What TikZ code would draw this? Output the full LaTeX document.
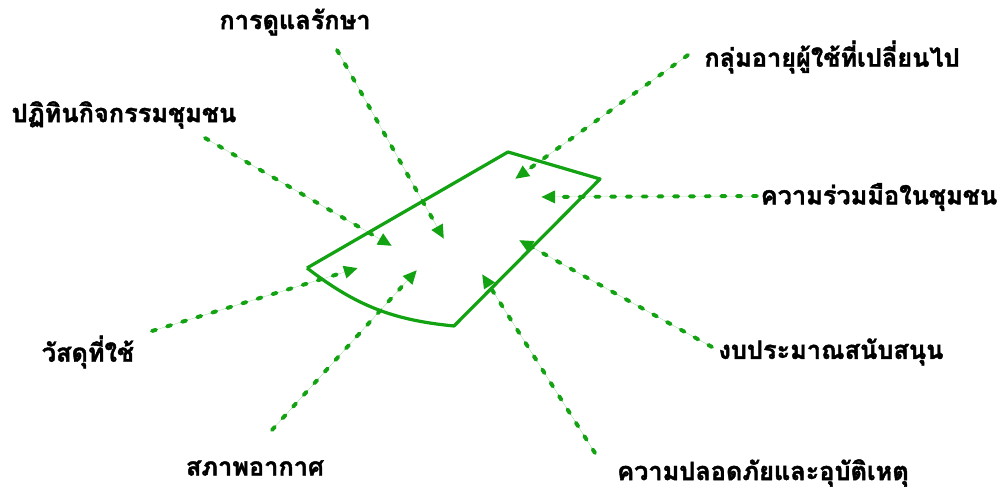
\documentclass[tikz,border=0pt]{standalone}
\usepackage{fontspec}
\newfontfamily\thaifont[Script=Thai,BoldFeatures={FakeBold=1.6}]{Loma}
\usepackage{tikz}
\usetikzlibrary{arrows.meta}
\definecolor{leaf}{HTML}{12A212}

\begin{document}
\begin{tikzpicture}[
  x=0.025cm,y=-0.025cm,
  font=\thaifont\bfseries\fontsize{18}{20}\selectfont,
  label/.style={inner sep=0pt,text=black},
  edge/.style={draw=leaf,line width=2.3pt,line join=round},
  cue/.style={-{Triangle[length=10pt,width=8.5pt]},draw=leaf,fill=leaf,line width=2.8pt,
    line cap=round,dash pattern=on 3pt off 8.2pt},
]
\useasboundingbox (0,0) rectangle (1001,491);

% the zone
\coordinate (west) at (307,268);
\coordinate (top) at (508,152);
\coordinate (east) at (600,179);
\coordinate (south) at (454,326);
\draw[edge] (west) -- (top) -- (east) -- (south) to[bend left=16] (west);

% labels
\node[label] (care) at (295,22) {การดูแลรักษา};
\node[label] (agegroup) at (832,57) {กลุ่มอายุผู้ใช้ที่เปลี่ยนไป};
\node[label] (calendar) at (124,115) {ปฏิทินกิจกรรมชุมชน};
\node[label] (cooperation) at (879,197) {ความร่วมมือในชุมชน};
\node[label] (material) at (88,352) {วัสดุที่ใช้};
\node[label] (budget) at (831,352) {งบประมาณสนับสนุน};
\node[label] (weather) at (255,468) {สภาพอากาศ};
\node[label] (safety) at (763,473) {ความปลอดภัยและอุบัติเหตุ};

% where the dashed lines leave and land
\coordinate (careout) at (337,50);
\coordinate (carein) at (444,239);
\coordinate (ageout) at (688,55);
\coordinate (agein) at (515,179);
\coordinate (calout) at (205,138);
\coordinate (calin) at (392,246);
\coordinate (coopout) at (757,196);
\coordinate (coopin) at (541,197);
\coordinate (matout) at (152,331);
\coordinate (matin) at (358,268);
\coordinate (budout) at (712,347);
\coordinate (budin) at (519,240);
\coordinate (weaout) at (272,430);
\coordinate (weain) at (417,270);
\coordinate (safout) at (595,453);
\coordinate (safin) at (482,274);

\draw[cue] (careout) -- (carein);
\draw[cue] (ageout) -- (agein);
\draw[cue] (calout) -- (calin);
\draw[cue] (coopout) -- (coopin);
\draw[cue] (matout) -- (matin);
\draw[cue] (budout) -- (budin);
\draw[cue] (weaout) -- (weain);
\draw[cue] (safout) -- (safin);
\end{tikzpicture}
\end{document}
